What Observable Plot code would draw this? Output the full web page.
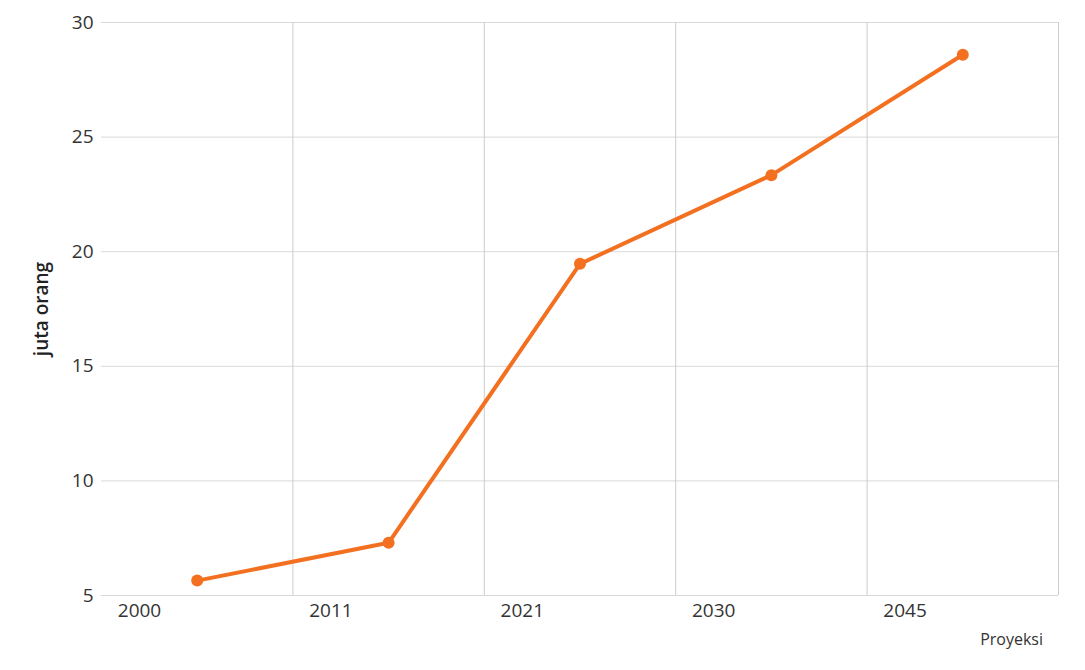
<!DOCTYPE html>
<html>
<head>
<meta charset="utf-8">
<script src="https://cdn.jsdelivr.net/npm/d3@7"></script>
<script src="https://cdn.jsdelivr.net/npm/@observablehq/plot@0.6"></script>
<style>
  body { margin: 0; background: #fff; font-family: "Open Sans", sans-serif; }
  #caption { text-align: right; padding-right: 42px; font-size: 16px; line-height: 28px; color: #333; }
</style>
</head>
<body>
<div id="chart"></div>
<div id="caption">Proyeksi</div>
<script>
// data
const years = ["2000", "2011", "2021", "2030", "2045"];
const values = [5.65, 7.3, 19.47, 23.34, 28.59];
const yTicks = [5, 10, 15, 20, 25, 30];

// each year gets one slot: point in the middle, grid line at the right edge
const pts = years.map((year, i) => ({i, year, value: values[i]}));
const slotEdges = years.map((_, i) => i + 1);

const chart = Plot.plot({
  width: 1085,
  height: 625,
  marginLeft: 101,
  marginRight: 27,
  marginTop: 22,
  marginBottom: 30,
  style: {
    fontFamily: '"Open Sans", sans-serif',
    fontSize: '19px',
    color: '#333',
    background: '#fff',
  },
  x: { domain: [0, years.length] },
  y: { domain: [5, 30] },
  marks: [
    Plot.ruleY(yTicks, { stroke: '#d9d9d9', strokeWidth: 1 }),
    Plot.ruleX(slotEdges, { stroke: '#cccccc', strokeWidth: 1 }),
    Plot.axisY({
      ticks: yTicks,
      tickSize: 0,
      tickPadding: 8,
      fontSize: 19,
      label: null,
    }),
    Plot.axisX({
      ticks: years.map((_, i) => i),
      tickFormat: i => years[i],
      tickSize: 0,
      tickPadding: 8,
      fontSize: 19,
      dx: 38,
      label: null,
    }),
    // y axis title, centred on the frame
    Plot.text(['juta orang'], {
      frameAnchor: 'left',
      rotate: -90,
      dx: -67,
      textAnchor: 'middle',
      lineAnchor: 'top',
      fontSize: 19,
      fontWeight: 600,
      fill: '#222',
    }),
    Plot.line(pts, {
      x: d => d.i + 0.5,
      y: 'value',
      stroke: '#f37021',
      strokeWidth: 4,
    }),
    Plot.dot(pts, {
      x: d => d.i + 0.5,
      y: 'value',
      r: 6,
      fill: '#f37021',
    }),
  ],
});

document.getElementById('chart').appendChild(chart);
</script>
</body>
</html>
